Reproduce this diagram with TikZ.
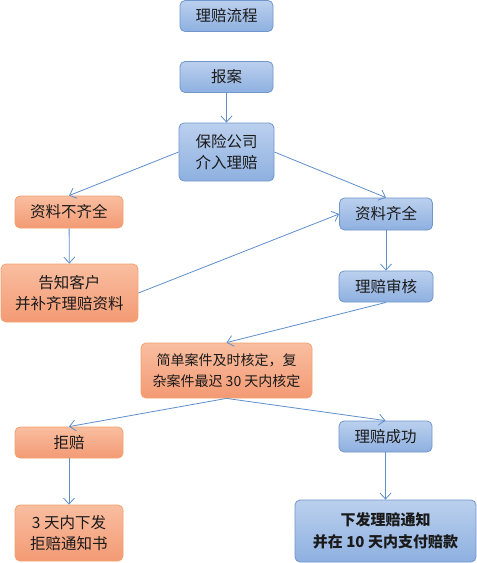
\documentclass[tikz,border=0pt]{standalone}
\usepackage{fontspec}
\setmainfont{Noto Sans CJK SC}
\usetikzlibrary{arrows.meta}
\definecolor{bluetop}{HTML}{BBD0EE}
\definecolor{bluebot}{HTML}{8EB0E0}
\definecolor{blueline}{HTML}{7196CB}
\definecolor{orgtop}{HTML}{F9BEA0}
\definecolor{orgbot}{HTML}{F39A74}
\definecolor{orgline}{HTML}{F2A36F}
\definecolor{arrowc}{HTML}{5E8FCC}
\definecolor{txt}{HTML}{1A1A1A}
\tikzset{
  box/.style={rectangle, rounded corners=5pt, line width=0.8pt, align=center, inner sep=0pt,
    text=txt, font=\fontsize{15.5}{21}\selectfont},
  bluebox/.style={box, draw=blueline, top color=bluetop, bottom color=bluebot},
  orgbox/.style={box, draw=orgline, top color=orgtop, bottom color=orgbot},
  conn/.style={draw=arrowc, line width=0.8pt, -{Straight Barb[length=6pt,width=11pt,line width=0.8pt]}}
}
\begin{document}
\begin{tikzpicture}[x=1pt,y=-1pt]
\useasboundingbox (0,0) rectangle (477,563);
\fill[white] (0,0) rectangle (477,563);
\node[bluebox, minimum width=93pt, minimum height=31pt] (title) at (226.5,16) {理赔流程};
\node[bluebox, minimum width=93pt, minimum height=31pt] (ba) at (226.5,77) {报案};
\node[bluebox, minimum width=95pt, minimum height=58pt] (bx) at (226.5,152) {保险公司\\介入理赔};
\node[orgbox, minimum width=108pt, minimum height=32pt] (nq) at (69,212) {资料不齐全};
\node[orgbox, minimum width=137pt, minimum height=58pt] (gz) at (69.5,293) {告知客户\\并补齐理赔资料};
\node[bluebox, minimum width=93pt, minimum height=32pt] (qq) at (386,214) {资料齐全};
\node[bluebox, minimum width=94pt, minimum height=31pt] (sh) at (386,286.5) {理赔审核};
\node[orgbox, minimum width=171pt, minimum height=55pt, font=\fontsize{14}{21}\selectfont] (jd) at (226.5,370.5) {简单案件及时核定，复\\杂案件最迟 30 天内核定};
\node[orgbox, minimum width=108pt, minimum height=31pt] (jp) at (69,442.5) {拒赔};
\node[bluebox, minimum width=93pt, minimum height=31pt] (cg) at (385.5,436.5) {理赔成功};
\node[orgbox, minimum width=108pt, minimum height=56pt] (tz) at (69,533) {3 天内下发\\拒赔通知书};
\node[bluebox, minimum width=181pt, minimum height=62pt, font=\bfseries\fontsize{15}{22}\selectfont] (xf) at (385.5,531) {下发理赔通知\\并在 10 天内支付赔款};
\draw[conn] (ba) -- (bx);
\draw[conn] (bx.west) -- (nq.north);
\draw[conn] (bx.east) -- (qq.north);
\draw[conn] (nq) -- (gz);
\draw[conn] (gz.east) -- (qq.west);
\draw[conn] (qq) -- (sh);
\draw[conn] (sh.south) -- (jd.north);
\draw[conn] (jd.south) -- (jp.north);
\draw[conn] (jd.south) -- (cg.north);
\draw[conn] (jp) -- (tz);
\draw[conn] (cg) -- (xf);
\end{tikzpicture}
\end{document}
